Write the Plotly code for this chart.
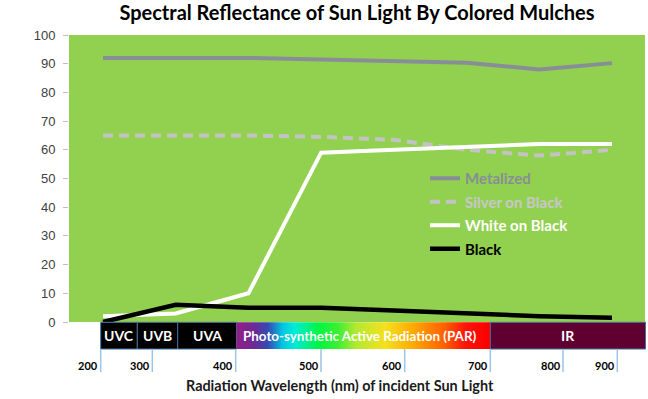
import plotly.graph_objects as go

# ---------------- data ----------------
categories = ["200", "340", "430", "520", "610", "700", "810", "950"]
metalized = [92, 92, 92, 91.5, 91, 90.3, 88, 90.2]
silver_on_black = [65, 65, 65, 64.5, 63.5, 60, 58, 60]
white_on_black = [2, 3, 10, 59, 60, 61, 62, 62]
black = [0, 6, 5, 5, 4, 3, 2, 1.5]
series_names = ["Metalized", "Silver on Black", "White on Black", "Black"]
y_ticks = [0, 10, 20, 30, 40, 50, 60, 70, 80, 90, 100]
band_labels = ["UVC", "UVB", "UVA", "Photo-synthetic Active Radiation (PAR)", "IR"]
band_tick_labels = ["200", "300", "400", "500", "600", "700", "800", "900"]
title_text = "Spectral Reflectance of Sun Light By Colored Mulches"
xaxis_title = "Radiation Wavelength (nm) of incident Sun Light"

# ---------------- geometry helpers (pixels -> paper) ----------------
W, H = 648, 399
L, R, T, B = 69, 645, 35, 322


def px(x):
    return (x - L) / (R - L)


def py(y):
    return (B - y) / (B - T)


FONT = "Lato"
fig = go.Figure()

styles = [
    dict(color="#878E98", width=4),
    dict(color="#C3C3C3", width=4, dash="10px,6px"),
    dict(color="#FFFFFF", width=4),
    dict(color="#000000", width=4.5),
]
text_colors = ["#878E98", "#C8C8C8", "#FFFFFF", "#000000"]
for i, (name, vals) in enumerate(zip(series_names, [metalized, silver_on_black, white_on_black, black])):
    fig.add_trace(go.Scatter(
        x=categories, y=vals, mode="lines", line=styles[i],
        name=f"<span style='color:{text_colors[i]}'><b>{name}</b></span>",
        legendgroup=f"g{i}",
    ))

shapes = []
# green plot background
shapes.append(dict(type="rect", xref="paper", yref="paper", x0=0, x1=1, y0=0, y1=1,
                   fillcolor="#92D050", line=dict(width=0), layer="below"))

band_top, band_bot = 322.3, 349
edge = "#41719C"
# UV boxes
uv_edges = [100.7, 137.3, 177.7, 236.7]
for a, b in zip(uv_edges[:-1], uv_edges[1:]):
    shapes.append(dict(type="rect", xref="paper", yref="paper", x0=px(a), x1=px(b),
                       y0=py(band_bot), y1=py(band_top), fillcolor="#000000",
                       line=dict(color=edge, width=1)))

# PAR gradient as thin slices
stops = [(236.7, (150, 30, 135)), (255, (105, 45, 150)), (268, (55, 75, 180)),
         (283, (0, 200, 225)), (295, (0, 235, 215)), (318, (0, 245, 70)),
         (338, (60, 240, 50)), (356, (180, 232, 50)), (385, (245, 225, 30)),
         (415, (255, 165, 0)), (445, (255, 95, 0)), (465, (255, 20, 10)), (490.3, (250, 0, 0))]


def col_at(x):
    for (x0, c0), (x1, c1) in zip(stops[:-1], stops[1:]):
        if x0 <= x <= x1:
            t = (x - x0) / (x1 - x0)
            return "rgb(%d,%d,%d)" % tuple(round(c0[k] + (c1[k] - c0[k]) * t) for k in range(3))
    return "rgb(%d,%d,%d)" % stops[-1][1]


x = stops[0][0]
step = 1.0
while x < stops[-1][0]:
    x2 = min(x + step, stops[-1][0])
    shapes.append(dict(type="rect", xref="paper", yref="paper", x0=px(x), x1=px(x2 + 0.4),
                       y0=py(band_bot), y1=py(band_top), fillcolor=col_at((x + x2) / 2),
                       line=dict(width=0)))
    x = x2

# IR box
shapes.append(dict(type="rect", xref="paper", yref="paper", x0=px(490.3), x1=px(645.5),
                   y0=py(band_bot), y1=py(band_top), fillcolor="#600030",
                   line=dict(color=edge, width=1)))

# band tick lines
tick_px = [100.7, 152.3, 235.7, 321, 404.7, 490.3, 563, 617.3]
for tx in tick_px:
    shapes.append(dict(type="line", xref="paper", yref="paper", x0=px(tx), x1=px(tx),
                       y0=py(band_bot), y1=py(372), line=dict(color="#9DC3E6", width=1.5)))

annotations = []
label_centers = [119, 157.5, 207, 360, 568]
label_sizes = [14, 14, 14, 13.4, 14]
for lab, cx, fs in zip(band_labels, label_centers, label_sizes):
    annotations.append(dict(xref="paper", yref="paper", x=px(cx), y=py(335.7), text=f"<b>{lab}</b>",
                            showarrow=False, xanchor="center", yanchor="middle",
                            font=dict(family=FONT, size=fs, color="#FFFFFF")))
for lab, tx in zip(band_tick_labels, tick_px):
    annotations.append(dict(xref="paper", yref="paper", x=px(tx - 0.5), y=py(365.5), text=f"<b>{lab}</b>",
                            showarrow=False, xanchor="right", yanchor="middle", xshift=0,
                            font=dict(family=FONT, size=11, color="#000000")))
annotations.append(dict(xref="paper", yref="paper", x=px(340), y=py(385.5), text=f"<b>{xaxis_title}</b>",
                        showarrow=False, xanchor="center", yanchor="middle",
                        font=dict(family=FONT, size=14.4, color="#1A1A1A")))

fig.update_layout(
    width=W, height=H,
    margin=dict(l=L, r=W - R, t=T, b=H - B, pad=0),
    paper_bgcolor="#FFFFFF",
    plot_bgcolor="rgba(0,0,0,0)",
    title=dict(text=f"<b>{title_text}</b>", x=357 / W, xanchor="center", y=1 - 13 / H, yanchor="middle",
               font=dict(family=FONT, size=20, color="#000000")),
    xaxis=dict(type="category", visible=False, range=[-0.4676, 7.454], fixedrange=True),
    yaxis=dict(range=[0, 100], tickvals=y_ticks, ticks="outside", ticklen=5, tickcolor="#BFBFBF",
               showgrid=False, zeroline=False, showline=False, ticklabelstandoff=5,
               tickfont=dict(family="Liberation Sans", size=13, color="#404040")),
    showlegend=True,
    legend=dict(x=px(425), y=py(162), xanchor="left", yanchor="top", bgcolor="rgba(0,0,0,0)",
                font=dict(family=FONT, size=15), tracegroupgap=1, traceorder="grouped",
                itemwidth=30),
    shapes=shapes,
    annotations=annotations,
)

fig.write_html("out.html")
